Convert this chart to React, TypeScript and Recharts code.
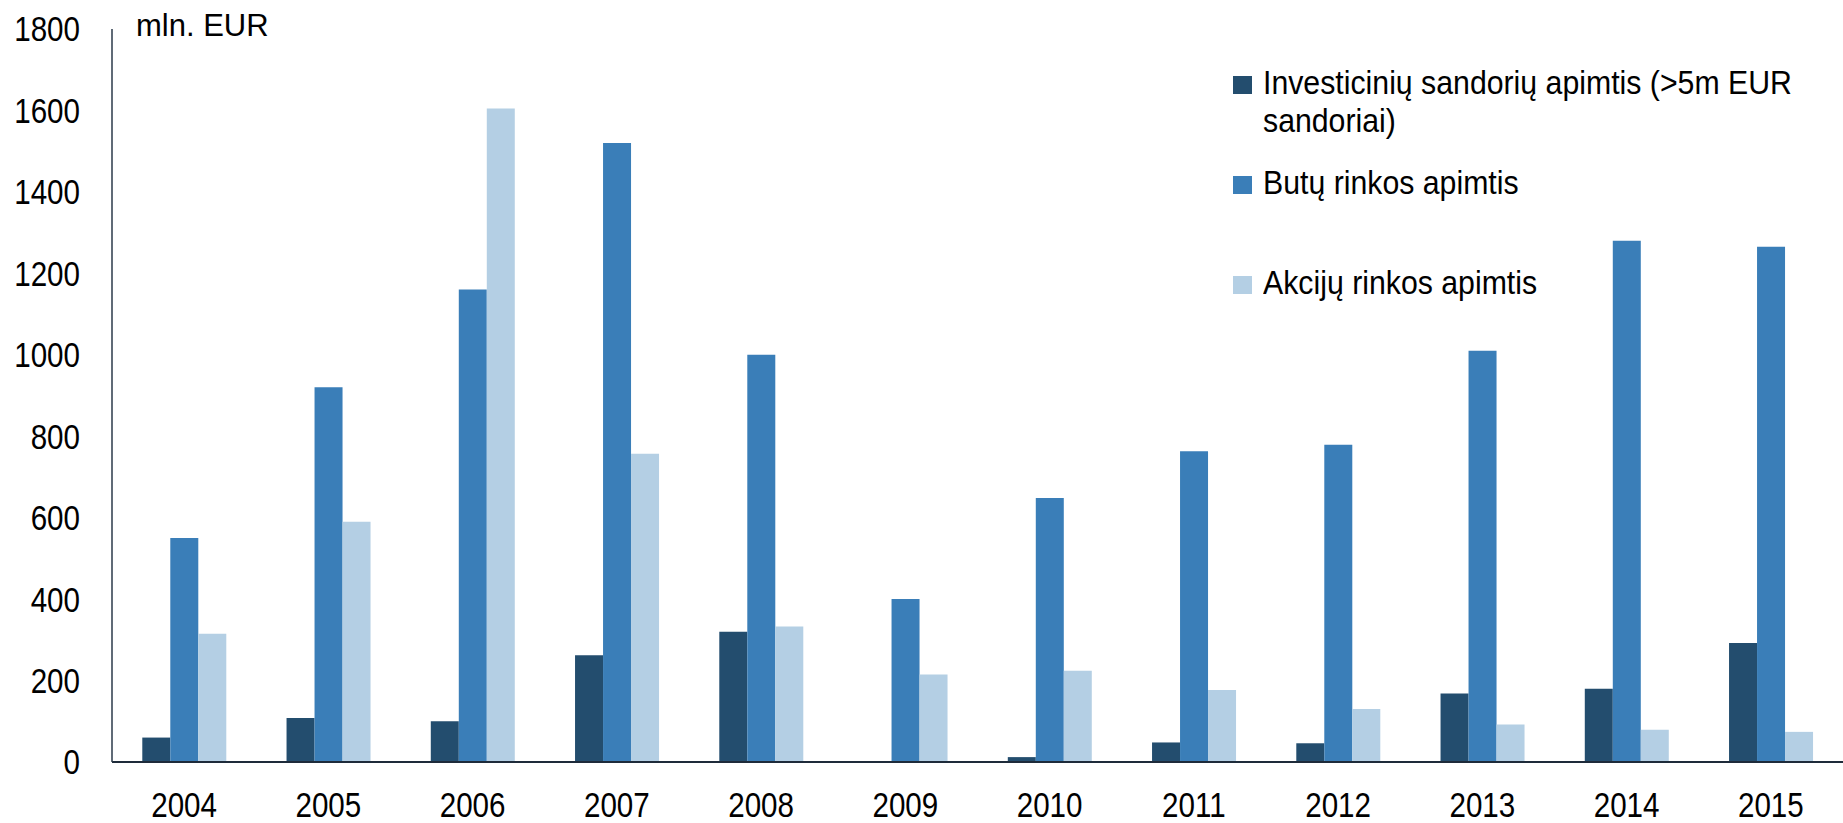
import { BarChart, Bar, XAxis, YAxis, Legend } from 'recharts'

// metai
const years = ['2004', '2005', '2006', '2007', '2008', '2009', '2010', '2011', '2012', '2013', '2014', '2015']

// mln. EUR
const investicijos = [60, 108, 100, 262, 320, 0, 12, 48, 46, 168, 180, 292]
const butai = [550, 920, 1160, 1520, 1000, 400, 648, 763, 779, 1010, 1280, 1265]
const akcijos = [315, 590, 1605, 757, 333, 215, 224, 177, 130, 92, 79, 74]

const yTicks = [0, 200, 400, 600, 800, 1000, 1200, 1400, 1600, 1800]

const seriesNames = [
  'Investicinių sandorių apimtis (>5m EUR sandoriai)',
  'Butų rinkos apimtis',
  'Akcijų rinkos apimtis',
]

// Arial Narrow nera, tai suspaudziam Liberation Sans
const font = "'Liberation Sans', Arial, sans-serif"
const tickSqueeze = 0.845
const legendSqueeze = 0.89

const data = years.map((year, i) => ({
  year,
  investicijos: investicijos[i],
  butai: butai[i],
  akcijos: akcijos[i],
}))

function NarrowTick(props: any) {
  const { x, y, payload, textAnchor, dy } = props
  return (
    <text
      x={0}
      y={0}
      dy={dy}
      transform={`translate(${x},${y}) scale(${tickSqueeze},1)`}
      textAnchor={textAnchor}
      fontSize={35}
      fontFamily={font}
      fill="#000"
    >
      {payload.value}
    </text>
  )
}

const XTick = (props: any) => <NarrowTick {...props} textAnchor="middle" dy="0.71em" />
const YTick = (props: any) => <NarrowTick {...props} textAnchor="end" dy="0.355em" />

// legenda: kvadratas + tekstas, elementai kas 100px
function renderLegend(props: any) {
  const payload = [...(props.payload || [])].sort(
    (a: any, b: any) => seriesNames.indexOf(a.value) - seriesNames.indexOf(b.value)
  )
  return (
    <div style={{ fontFamily: font, fontSize: 34, color: '#000' }}>
      {payload.map((entry: any) => (
        <div key={entry.value} style={{ position: 'relative', height: 100 }}>
          <span
            style={{
              position: 'absolute',
              left: 0,
              top: 12,
              width: 19,
              height: 18,
              background: entry.color,
            }}
          />
          <div
            style={{
              position: 'absolute',
              left: 30,
              top: 0,
              width: 640,
              lineHeight: '37.6px',
              transform: `scaleX(${legendSqueeze})`,
              transformOrigin: 'left top',
            }}
          >
            {entry.value}
          </div>
        </div>
      ))}
    </div>
  )
}

export default function App() {
  return (
    <div style={{ position: 'absolute', left: 0, top: 0, width: 1843, height: 823, background: '#fff' }}>
      <div
        style={{
          position: 'absolute',
          left: 136,
          top: 8,
          fontFamily: font,
          fontSize: 31,
          color: '#000',
          lineHeight: '36px',
        }}
      >
        mln. EUR
      </div>
      <BarChart
        width={1843}
        height={823}
        data={data}
        margin={{ top: 29, right: 0, bottom: 0, left: 0 }}
        barCategoryGap="21%"
        barGap={0}
      >
        <XAxis
          dataKey="year"
          height={61}
          axisLine={{ stroke: '#1e2b3a', strokeWidth: 2 }}
          tickLine={false}
          tickSize={0}
          tickMargin={30}
          tick={XTick}
          interval={0}
        />
        <YAxis
          width={112}
          domain={[0, 1800]}
          ticks={yTicks}
          interval={0}
          axisLine={{ stroke: '#2b3a4a', strokeWidth: 1.5 }}
          tickLine={false}
          tickSize={0}
          tickMargin={32}
          tick={YTick}
        />
        <Legend
          layout="vertical"
          align="center"
          verticalAlign="middle"
          content={renderLegend}
          wrapperStyle={{ left: 1233, top: 64, width: 600, height: 300 }}
        />
        <Bar dataKey="investicijos" name={seriesNames[0]} fill="#234d6e" isAnimationActive={false} />
        <Bar dataKey="butai" name={seriesNames[1]} fill="#3a7eb8" isAnimationActive={false} />
        <Bar dataKey="akcijos" name={seriesNames[2]} fill="#b4cfe4" isAnimationActive={false} />
      </BarChart>
    </div>
  )
}
